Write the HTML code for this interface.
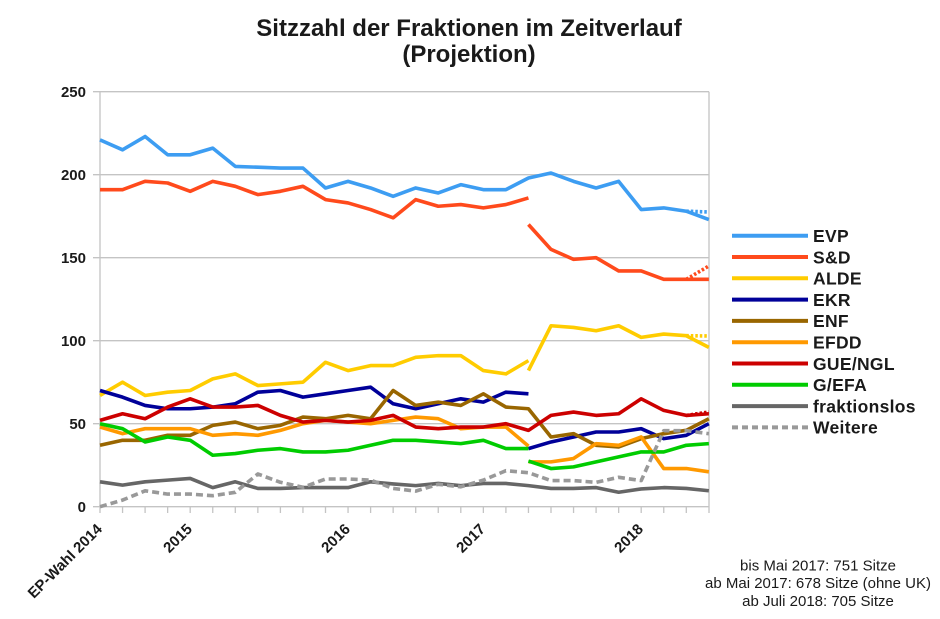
<!DOCTYPE html>
<html>
<head>
<meta charset="utf-8">
<style>
html,body{margin:0;padding:0;background:#fff;}
svg{display:block;}
text{font-family:"Liberation Sans",Arial,sans-serif;fill:#1a1a1a;}
.t{font-size:24px;font-weight:bold;}
.yl{font-size:15px;font-weight:bold;}
.xl{font-size:15px;font-weight:bold;}
.lg{font-size:17.5px;font-weight:bold;letter-spacing:0.3px;}
.nt{font-size:15px;}
.s{fill:none;stroke-width:3.6;stroke-linejoin:round;stroke-linecap:butt;vector-effect:non-scaling-stroke;}
</style>
</head>
<body>
<svg width="940" height="619" viewBox="0 0 940 619" xmlns="http://www.w3.org/2000/svg">
<rect width="940" height="619" fill="#fff"/>
<!-- Title -->
<text class="t" x="469" y="36" text-anchor="middle">Sitzzahl der Fraktionen im Zeitverlauf</text>
<text class="t" x="469" y="62" text-anchor="middle">(Projektion)</text>

<!-- Grid -->
<g stroke="#c4c4c4" stroke-width="1.3">
<line x1="93" y1="91.7" x2="709" y2="91.7"/>
<line x1="93" y1="174.7" x2="709" y2="174.7"/>
<line x1="93" y1="257.7" x2="709" y2="257.7"/>
<line x1="93" y1="340.7" x2="709" y2="340.7"/>
<line x1="93" y1="423.7" x2="709" y2="423.7"/>
<line x1="93" y1="506.7" x2="709" y2="506.7"/>
<line x1="100" y1="91.7" x2="100" y2="513"/>
<line x1="709" y1="91.7" x2="709" y2="513"/>
</g>
<g stroke="#c4c4c4" stroke-width="1.3">
<line x1="122.55" y1="506.7" x2="122.55" y2="513"/>
<line x1="145.1" y1="506.7" x2="145.1" y2="513"/>
<line x1="167.65" y1="506.7" x2="167.65" y2="513"/>
<line x1="190.2" y1="506.7" x2="190.2" y2="513"/>
<line x1="212.75" y1="506.7" x2="212.75" y2="513"/>
<line x1="235.3" y1="506.7" x2="235.3" y2="513"/>
<line x1="257.85" y1="506.7" x2="257.85" y2="513"/>
<line x1="280.4" y1="506.7" x2="280.4" y2="513"/>
<line x1="302.95" y1="506.7" x2="302.95" y2="513"/>
<line x1="325.5" y1="506.7" x2="325.5" y2="513"/>
<line x1="348.05" y1="506.7" x2="348.05" y2="513"/>
<line x1="370.6" y1="506.7" x2="370.6" y2="513"/>
<line x1="393.15" y1="506.7" x2="393.15" y2="513"/>
<line x1="415.7" y1="506.7" x2="415.7" y2="513"/>
<line x1="438.25" y1="506.7" x2="438.25" y2="513"/>
<line x1="460.8" y1="506.7" x2="460.8" y2="513"/>
<line x1="483.35" y1="506.7" x2="483.35" y2="513"/>
<line x1="505.9" y1="506.7" x2="505.9" y2="513"/>
<line x1="528.45" y1="506.7" x2="528.45" y2="513"/>
<line x1="551" y1="506.7" x2="551" y2="513"/>
<line x1="573.55" y1="506.7" x2="573.55" y2="513"/>
<line x1="596.1" y1="506.7" x2="596.1" y2="513"/>
<line x1="618.65" y1="506.7" x2="618.65" y2="513"/>
<line x1="641.2" y1="506.7" x2="641.2" y2="513"/>
<line x1="663.75" y1="506.7" x2="663.75" y2="513"/>
<line x1="686.3" y1="506.7" x2="686.3" y2="513"/>
</g>

<!-- Y labels -->
<text class="yl" x="86" y="97" text-anchor="end">250</text>
<text class="yl" x="86" y="180" text-anchor="end">200</text>
<text class="yl" x="86" y="263" text-anchor="end">150</text>
<text class="yl" x="86" y="346" text-anchor="end">100</text>
<text class="yl" x="86" y="429" text-anchor="end">50</text>
<text class="yl" x="86" y="512" text-anchor="end">0</text>

<!-- X labels -->
<text class="xl" text-anchor="end" transform="translate(103,530) rotate(-45)">EP-Wahl 2014</text>
<text class="xl" text-anchor="end" transform="translate(193,530) rotate(-45)">2015</text>
<text class="xl" text-anchor="end" transform="translate(351,530) rotate(-45)">2016</text>
<text class="xl" text-anchor="end" transform="translate(486,530) rotate(-45)">2017</text>
<text class="xl" text-anchor="end" transform="translate(644,530) rotate(-45)">2018</text>

<!-- Series in data coordinates -->
<g transform="matrix(22.55 0 0 -1.66 100 506.7)">
<polyline class="s" stroke="#3d9df2" points="0,221 1,215 2,223 3,212 4,212 5,216 6,205 7,204.5 8,204 9,204 10,192 11,196 12,192 13,187 14,192 15,189 16,194 17,191 18,191 19,198 20,201 21,196 22,192 23,196 24,179 25,180 26,178 27,173"/>
<polyline class="s" stroke="#ff4a1c" points="0,191 1,191 2,196 3,195 4,190 5,196 6,193 7,188 8,190 9,193 10,185 11,183 12,179 13,174 14,185 15,181 16,182 17,180 18,182 19,186"/>
<polyline class="s" stroke="#ff4a1c" points="19,170 20,155 21,149 22,150 23,142 24,142 25,137 26,137 27,137"/>
<polyline class="s" stroke="#ffcc00" points="0,67 1,75 2,67 3,69 4,70 5,77 6,80 7,73 8,74 9,75 10,87 11,82 12,85 13,85 14,90 15,91 16,91 17,82 18,80 19,88"/>
<polyline class="s" stroke="#ffcc00" points="19,82 20,109 21,108 22,106 23,109 24,102 25,104 26,103 27,96"/>
<polyline class="s" stroke="#000099" points="0,70 1,66 2,61 3,59 4,59 5,60 6,62 7,69 8,70 9,66 10,68 11,70 12,72 13,62 14,59 15,62 16,65 17,63 18,69 19,68"/>
<polyline class="s" stroke="#000099" points="19,35 20,39 21,42 22,45 23,45 24,47 25,41 26,43 27,50"/>
<polyline class="s" stroke="#996600" points="0,37 1,40 2,40 3,43 4,43 5,49 6,51 7,47 8,49 9,54 10,53 11,55 12,53 13,70 14,61 15,63 16,61 17,68 18,60 19,59 20,42 21,44 22,37 23,36 24,41 25,44 26,46 27,53"/>
<polyline class="s" stroke="#ff9900" points="0,48 1,44 2,47 3,47 4,47 5,43 6,44 7,43 8,46 9,50 10,52 11,51 12,50 13,52 14,54 15,53 16,47 17,48 18,48 19,36.5"/>
<polyline class="s" stroke="#ff9900" points="19,27 20,27 21,29 22,38 23,37 24,42 25,23 26,23 27,21"/>
<polyline class="s" stroke="#cc0000" points="0,52 1,56 2,53 3,60 4,65 5,60 6,60 7,61 8,55 9,51 10,52 11,51 12,52 13,55 14,48 15,47 16,48 17,48 18,50 19,46 20,55 21,57 22,55 23,56 24,65 25,58 26,55 27,56"/>
<polyline class="s" stroke="#00cc00" points="0,50 1,47 2,39 3,42 4,40 5,31 6,32 7,34 8,35 9,33 10,33 11,34 12,37 13,40 14,40 15,39 16,38 17,40 18,35 19,35"/>
<polyline class="s" stroke="#00cc00" points="19,27.5 20,23 21,24 22,27 23,30 24,33 25,33 26,37 27,38"/>
<polyline class="s" stroke="#666666" points="0,15 1,13 2,15 3,16 4,17 5,11.5 6,15 7,11 8,11 9,11.5 10,11.5 11,11.5 12,15 13,13.7 14,12.7 15,14 16,12.7 17,14 18,14 19,12.7 20,11 21,11 22,11.5 23,8.7 24,10.7 25,11.5 26,11 27,9.6"/>
</g>

<!-- Dotted projections -->
<g fill="none" stroke-width="3.6" stroke-dasharray="2.5,2">
<line x1="686.3" y1="211.2" x2="708.85" y2="212" stroke="#3d9df2"/>
<line x1="686.3" y1="279.3" x2="708.85" y2="266" stroke="#ff4a1c"/>
<line x1="686.3" y1="335.7" x2="708.85" y2="336" stroke="#ffcc00"/>
<line x1="686.3" y1="415.4" x2="708.85" y2="412" stroke="#cc0000"/>
</g>

<!-- Weitere (dashed) -->
<polyline fill="none" stroke="#999999" stroke-width="3.6" stroke-dasharray="7,4" stroke-linejoin="round" points="100,506.7 122.55,500.1 145.1,490.8 167.65,494.1 190.2,494.1 212.75,495.7 235.3,492.3 257.85,474 280.4,482.3 302.95,487.3 325.5,479 348.05,479 370.6,480.1 393.15,488.4 415.7,491.1 438.25,484.3 460.8,486.8 483.35,480.1 505.9,470.7 528.45,472.7 551,480.6 573.55,480.6 596.1,482.3 618.65,477.3 641.2,480.6 663.75,430.7 686.3,430.7 708.85,433.7"/>

<!-- Legend -->
<g stroke-width="4">
<line x1="732" y1="235.7" x2="808" y2="235.7" stroke="#3d9df2"/>
<line x1="732" y1="257" x2="808" y2="257" stroke="#ff4a1c"/>
<line x1="732" y1="278.3" x2="808" y2="278.3" stroke="#ffcc00"/>
<line x1="732" y1="299.6" x2="808" y2="299.6" stroke="#000099"/>
<line x1="732" y1="320.9" x2="808" y2="320.9" stroke="#996600"/>
<line x1="732" y1="342.2" x2="808" y2="342.2" stroke="#ff9900"/>
<line x1="732" y1="363.5" x2="808" y2="363.5" stroke="#cc0000"/>
<line x1="732" y1="384.8" x2="808" y2="384.8" stroke="#00cc00"/>
<line x1="732" y1="406.1" x2="808" y2="406.1" stroke="#666666"/>
<line x1="732" y1="427.4" x2="808" y2="427.4" stroke="#999999" stroke-dasharray="6,4"/>
</g>
<text class="lg" x="813" y="242">EVP</text>
<text class="lg" x="813" y="263.3">S&amp;D</text>
<text class="lg" x="813" y="284.6">ALDE</text>
<text class="lg" x="813" y="305.9">EKR</text>
<text class="lg" x="813" y="327.2">ENF</text>
<text class="lg" x="813" y="348.5">EFDD</text>
<text class="lg" x="813" y="369.8">GUE/NGL</text>
<text class="lg" x="813" y="391.1">G/EFA</text>
<text class="lg" x="813" y="412.4">fraktionslos</text>
<text class="lg" x="813" y="433.7">Weitere</text>

<!-- Note -->
<text class="nt" x="818" y="570.5" text-anchor="middle">bis Mai 2017: 751 Sitze</text>
<text class="nt" x="818" y="588" text-anchor="middle">ab Mai 2017: 678 Sitze (ohne UK)</text>
<text class="nt" x="818" y="606" text-anchor="middle">ab Juli 2018: 705 Sitze</text>
</svg>
</body>
</html>
